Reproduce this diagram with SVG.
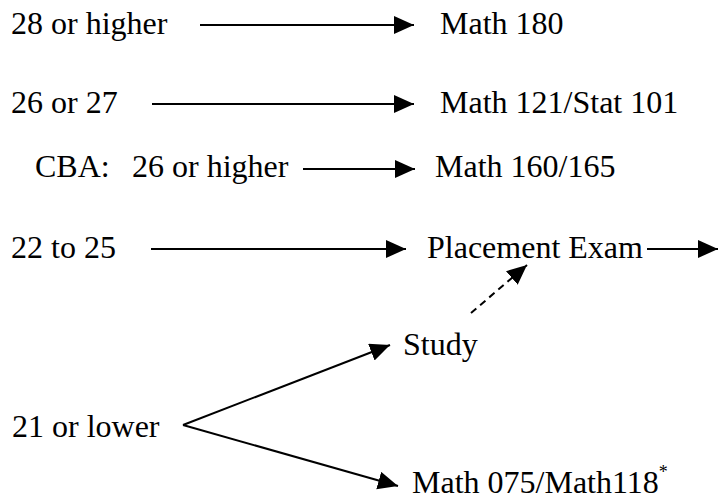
<svg xmlns="http://www.w3.org/2000/svg" width="719" height="500" viewBox="0 0 719 500">
<style>
text{font-family:'Liberation Serif','Times New Roman',Times,serif;font-size:32px;fill:#000}
.c line{stroke:#000;stroke-width:2;fill:none}
.d{stroke-dasharray:7,5}
</style>
<defs>
<marker id="ah" markerUnits="userSpaceOnUse" markerWidth="22" markerHeight="20" refX="20" refY="9" orient="auto">
<path d="M0,0 L20,9 L0,18 z" fill="#000"/>
</marker>
</defs>
<rect width="719" height="500" fill="#fff"/>
<g font-family="'Liberation Serif', serif">
<g id="n28"><text x="11" y="34">28 or higher</text></g>
<g id="m180"><text x="440" y="34">Math 180</text></g>
<g id="n26"><text x="11" y="113">26 or 27</text></g>
<g id="m121"><text x="440" y="113">Math 121/Stat 101</text></g>
<g id="cba"><text x="35" y="177">CBA:</text><text x="132" y="177">26 or higher</text></g>
<g id="m160"><text x="435" y="177">Math 160/165</text></g>
<g id="n22"><text x="11" y="258">22 to 25</text></g>
<g id="pe"><text x="427" y="258">Placement Exam</text></g>
<g id="study"><text x="403" y="355">Study</text></g>
<g id="n21"><text x="12" y="437">21 or lower</text></g>
<g id="m075"><text x="412" y="493">Math 075/Math118<tspan font-size="18" dy="-15">*</tspan></text></g>
</g>
<g id="connectors" class="c">
<line x1="200" y1="25" x2="414" y2="25" marker-end="url(#ah)"/>
<line x1="152" y1="104" x2="414" y2="104" marker-end="url(#ah)"/>
<line x1="303" y1="169" x2="415" y2="169" marker-end="url(#ah)"/>
<line x1="151" y1="249" x2="406" y2="249" marker-end="url(#ah)"/>
<line x1="647" y1="249" x2="718" y2="249" marker-end="url(#ah)"/>
<line class="d" x1="471" y1="313" x2="527" y2="265" marker-end="url(#ah)"/>
<line x1="183" y1="425" x2="390" y2="345" marker-end="url(#ah)"/>
<line x1="183" y1="425" x2="398" y2="486" marker-end="url(#ah)"/>
</g>
</svg>
